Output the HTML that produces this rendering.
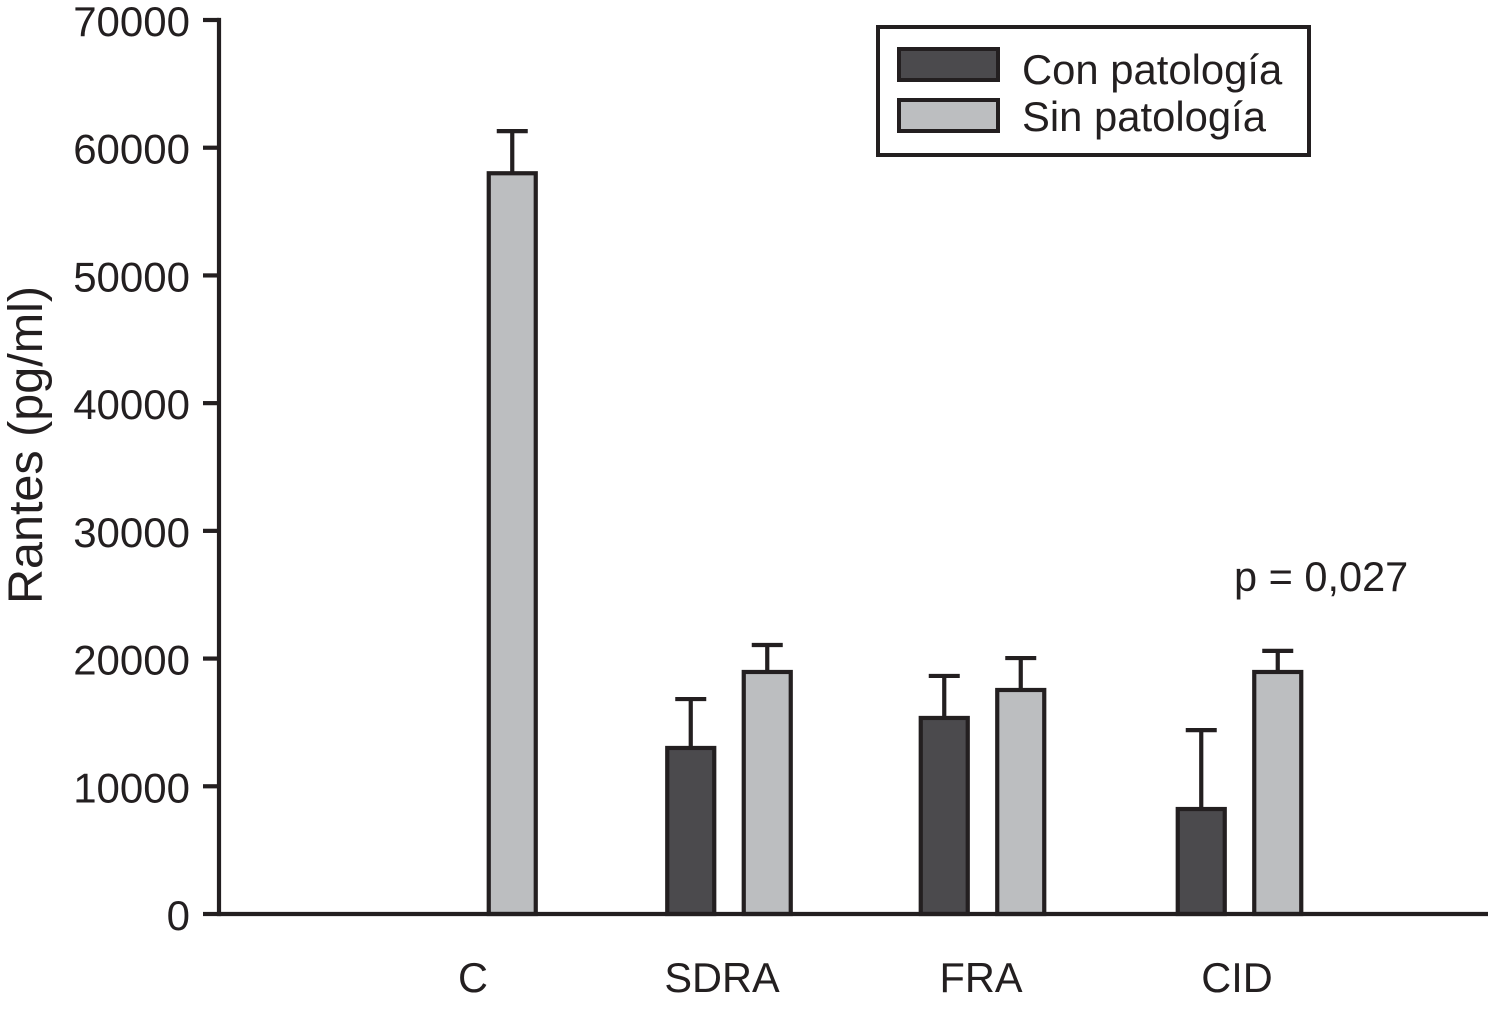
<!DOCTYPE html>
<html lang="es">
<head>
<meta charset="utf-8">
<title>Rantes (pg/ml)</title>
<style>
html,body{margin:0;padding:0;background:#fff;}
svg{display:block;}
text{font-family:"Liberation Sans",sans-serif;fill:#231f20;}
</style>
</head>
<body>
<svg id="chart" xmlns="http://www.w3.org/2000/svg" width="1488" height="1012" viewBox="0 0 1488 1012">
  <rect x="0" y="0" width="1488" height="1012" fill="#ffffff"/>
  <g id="bars"></g>
  <g id="y-axis"></g>
  <g id="x-axis"></g>
  <text transform="translate(42,445) rotate(-90)" text-anchor="middle" font-size="48.5">Rantes (pg/ml)</text>
  <text x="1234" y="591" font-size="41.5">p = 0,027</text>
  <g>
    <rect x="878" y="27" width="431" height="128" fill="#ffffff" stroke="#231f20" stroke-width="4"/>
    <rect x="899" y="49" width="99" height="31" fill="#4b4a4d" stroke="#231f20" stroke-width="4"/>
    <text x="1022" y="84" font-size="41.8">Con patología</text>
    <rect x="899" y="100" width="99" height="31" fill="#bcbec0" stroke="#231f20" stroke-width="4"/>
    <text x="1022" y="131" font-size="41.8">Sin patología</text>
  </g>
</svg>
<script>
const categories = ['C', 'SDRA', 'FRA', 'CID'];
const conPatologia = [null, 13000, 15350, 8220];
const conPatologiaError = [null, 3830, 3290, 6180];
const sinPatologia = [58000, 18950, 17540, 18950];
const sinPatologiaError = [3300, 2110, 2500, 1650];
const yTicks = [0, 10000, 20000, 30000, 40000, 50000, 60000, 70000];

const NS = 'http://www.w3.org/2000/svg';
const INK = '#231f20';
const yMax = 70000;
const plotTop = 20;
const plotBottom = 914;
const axisX = 219;
const plotRight = 1488;
const groupStart = 474;
const groupStep = 255;
const barOffset = 38.25;
const barWidth = 47;
const capWidth = 31;
const strokeW = 4.2;
const groupShift = { C: 0, SDRA: 0, FRA: -1.5, CID: 0.5 };
const labelShift = { C: -1, SDRA: -7, FRA: -1.5, CID: -2.5 };

function yScale(v) { return plotBottom - (v / yMax) * (plotBottom - plotTop); }
function xScale(i) { return groupStart + i * groupStep + groupShift[categories[i]]; }

function make(tag, parent, props) {
  const el = document.createElementNS(NS, tag);
  Object.keys(props).forEach(function (k) { el.setAttribute(k, props[k]); });
  parent.appendChild(el);
  return el;
}

const barsLayer = document.getElementById('bars');
const yLayer = document.getElementById('y-axis');
const xLayer = document.getElementById('x-axis');

function drawBar(cx, value, error, fill, slug) {
  const yTop = yScale(value);
  const yErr = yScale(value + error);

  const stem = make('line', barsLayer, { x1: cx, x2: cx, y1: yTop, y2: yErr, stroke: INK, 'stroke-width': strokeW });
  
  

  const cap = make('line', barsLayer, { x1: cx - capWidth / 2, x2: cx + capWidth / 2, y1: yErr, y2: yErr, stroke: INK, 'stroke-width': strokeW });
  
  

  const bar = make('rect', barsLayer, { x: cx - barWidth / 2, y: yTop, width: barWidth, height: plotBottom - yTop, fill: fill, stroke: INK, 'stroke-width': strokeW });
  
  
}

categories.forEach(function (cat, i) {
  const slug = cat.toLowerCase();
  if (conPatologia[i] !== null) {
    drawBar(xScale(i) - barOffset, conPatologia[i], conPatologiaError[i], '#4b4a4d', slug + '-con-patologia');
  }
  if (sinPatologia[i] !== null) {
    drawBar(xScale(i) + barOffset, sinPatologia[i], sinPatologiaError[i], '#bcbec0', slug + '-sin-patologia');
  }

  const label = make('text', xLayer, { x: xScale(i) + labelShift[cat], y: 992, 'text-anchor': 'middle', 'font-size': 41.5 });
  
  
  label.textContent = cat;
});

const xLine = make('line', xLayer, { x1: axisX, x2: plotRight, y1: plotBottom, y2: plotBottom, stroke: INK, 'stroke-width': strokeW });



const yLine = make('line', yLayer, { x1: axisX, x2: axisX, y1: plotTop - strokeW / 2, y2: plotBottom + strokeW / 2, stroke: INK, 'stroke-width': strokeW });



yTicks.forEach(function (t) {
  const y = yScale(t);

  const tick = make('line', yLayer, { x1: 203, x2: axisX, y1: y, y2: y, stroke: INK, 'stroke-width': strokeW });
  
  

  const label = make('text', yLayer, { x: 190, y: y + 16, 'text-anchor': 'end', 'font-size': 42 });
  
  
  label.textContent = String(t);
});
</script>
</body>
</html>
